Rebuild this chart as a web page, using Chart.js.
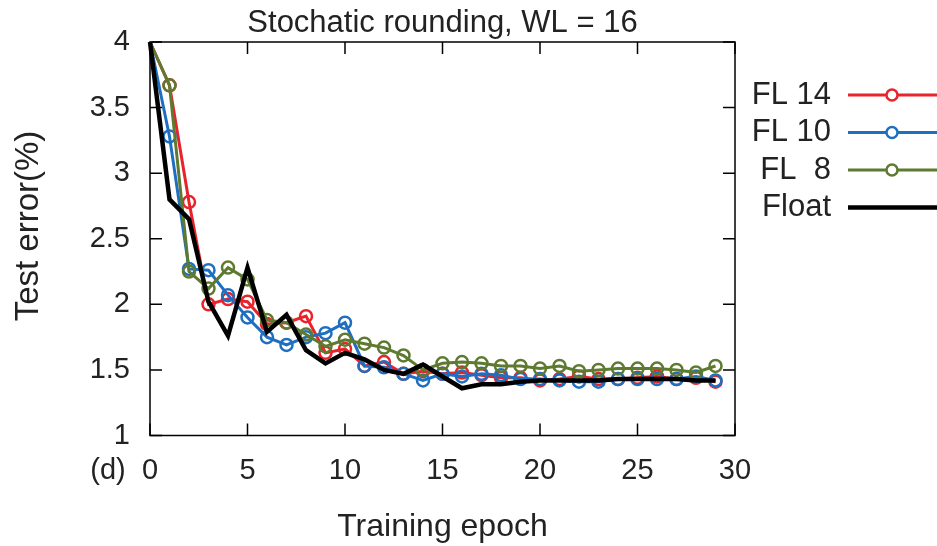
<!DOCTYPE html>
<html lang="en">
<head>
  <meta charset="UTF-8">
  <title>Stochatic rounding, WL = 16</title>
  <style>
    body { margin: 0; background: #fff; }
    #wrap { width: 937px; height: 546px; }
  </style>
</head>
<body>
  <div id="wrap">
    <canvas id="grafico" width="937" height="546"></canvas>
  </div>

  <script src="https://cdn.jsdelivr.net/npm/chart.js"></script>

  <script>
    // data
    const epochs = [0,1,2,3,4,5,6,7,8,9,10,11,12,13,14,15,16,17,18,19,20,21,22,23,24,25,26,27,28,29];
    const fl14 = [4, 3.67, 2.78, 2.0, 2.04, 2.02, 1.85, 1.86, 1.91, 1.63, 1.66, 1.53, 1.56, 1.47, 1.49, 1.47, 1.48, 1.46, 1.44, 1.44, 1.42, 1.43, 1.45, 1.43, 1.43, 1.44, 1.45, 1.43, 1.44, 1.41];
    const fl10 = [4, 3.28, 2.27, 2.26, 2.07, 1.9, 1.75, 1.69, 1.75, 1.78, 1.86, 1.53, 1.52, 1.47, 1.42, 1.47, 1.45, 1.47, 1.46, 1.43, 1.43, 1.42, 1.41, 1.41, 1.43, 1.43, 1.43, 1.43, 1.45, 1.42];
    const fl8 = [4, 3.67, 2.25, 2.12, 2.28, 2.19, 1.88, 1.86, 1.77, 1.68, 1.73, 1.7, 1.67, 1.61, 1.5, 1.55, 1.56, 1.55, 1.53, 1.53, 1.51, 1.53, 1.49, 1.5, 1.51, 1.51, 1.51, 1.5, 1.48, 1.53];
    const floatErr = [4, 2.8, 2.65, 2.02, 1.76, 2.28, 1.79, 1.92, 1.65, 1.55, 1.63, 1.58, 1.5, 1.47, 1.54, 1.45, 1.36, 1.39, 1.39, 1.41, 1.42, 1.42, 1.42, 1.42, 1.43, 1.43, 1.43, 1.43, 1.42, 1.42];

    const seriesNames = ["FL 14", "FL 10", "FL  8", "Float"];
    const seriesColors = ["#e8232b", "#1f6fc0", "#5e7a30", "#000000"];
    const xTicks = [0, 5, 10, 15, 20, 25, 30];
    const yTicks = [1, 1.5, 2, 2.5, 3, 3.5, 4];

    const FONT = "'Liberation Sans', Arial, sans-serif";

    function pts(arr) {
      return arr.map((v, i) => ({ x: epochs[i], y: v }));
    }

    // frame with inward ticks, gnuplot style
    const frame = {
      id: "frame",
      beforeDatasetsDraw(chart) {
        const { ctx, chartArea: a, scales } = chart;
        ctx.save();
        ctx.strokeStyle = "#000";
        ctx.lineWidth = 1.5;
        ctx.strokeRect(a.left, a.top, a.right - a.left, a.bottom - a.top);
        ctx.beginPath();
        xTicks.forEach(t => {
          const px = scales.x.getPixelForValue(t);
          ctx.moveTo(px, a.bottom); ctx.lineTo(px, a.bottom - 12);
          ctx.moveTo(px, a.top); ctx.lineTo(px, a.top + 12);
        });
        yTicks.forEach(t => {
          const py = scales.y.getPixelForValue(t);
          ctx.moveTo(a.left, py); ctx.lineTo(a.left + 12, py);
          ctx.moveTo(a.right, py); ctx.lineTo(a.right - 12, py);
        });
        ctx.stroke();
        ctx.restore();
      },
      afterDraw(chart) {
        const { ctx, chartArea: a } = chart;
        ctx.save();
        ctx.fillStyle = "#222";
        ctx.textBaseline = "middle";
        ctx.textAlign = "center";
        ctx.font = "31px " + FONT;
        ctx.fillText("Stochatic rounding, WL = 16", (a.left + a.right) / 2, 23);
        ctx.font = "32px " + FONT;
        ctx.fillText("Training epoch", (a.left + a.right) / 2, 527);
        ctx.font = "29px " + FONT;
        ctx.fillText("(d)", 108, 471);
        ctx.save();
        ctx.translate(29, 226);
        ctx.rotate(-Math.PI / 2);
        ctx.font = "33px " + FONT;
        ctx.fillText("Test error(%)", 0, 0);
        ctx.restore();

        // legend
        ctx.font = "31px " + FONT;
        seriesNames.forEach((name, i) => {
          const y = 95 + i * 37.5;
          ctx.textAlign = "right";
          ctx.fillStyle = "#222";
          ctx.fillText(name, 831, y);
          ctx.strokeStyle = seriesColors[i];
          ctx.lineWidth = i === 3 ? 4.5 : 3;
          ctx.beginPath();
          ctx.moveTo(848, y); ctx.lineTo(937, y);
          ctx.stroke();
          if (i < 3) {
            ctx.lineWidth = 2.5;
            ctx.fillStyle = "#fff";
            ctx.beginPath();
            ctx.arc(892, y, 5.5, 0, Math.PI * 2);
            ctx.fill();
            ctx.stroke();
          }
        });
        ctx.restore();
      }
    };

    document.addEventListener("DOMContentLoaded", () => {
      const lienzo = document.getElementById("grafico");
      const series = [fl14, fl10, fl8, floatErr];
      const orders = [3, 2, 1, 0];

      const datasets = series.map((arr, i) => ({
        label: seriesNames[i],
        data: pts(arr),
        borderColor: seriesColors[i],
        backgroundColor: "rgba(255,255,255,0)",
        borderWidth: i === 3 ? 4.5 : 3,
        pointRadius: i === 3 ? 0 : (c => c.dataIndex === 0 ? 0 : 6),
        pointBorderWidth: 2.5,
        pointBorderColor: seriesColors[i],
        pointBackgroundColor: "rgba(255,255,255,0)",
        tension: 0,
        clip: false,
        order: orders[i]
      }));

      new Chart(lienzo, {
        type: "line",
        data: { datasets },
        plugins: [frame],
        options: {
          responsive: false,
          animation: false,
          layout: { padding: { top: 42, right: 202, left: 0, bottom: 0 } },
          plugins: {
            legend: { display: false },
            tooltip: { enabled: false },
            title: { display: false }
          },
          scales: {
            x: {
              type: "linear",
              min: 0,
              max: 30,
              afterFit: s => { s.height = 110.5; },
              afterBuildTicks: s => { s.ticks = xTicks.map(v => ({ value: v })); },
              grid: { display: false, drawTicks: false },
              border: { display: false },
              ticks: { color: "#222", font: { family: FONT, size: 29 }, padding: 18, maxRotation: 0 }
            },
            y: {
              min: 1,
              max: 4,
              afterFit: s => { s.width = 150; },
              afterBuildTicks: s => { s.ticks = yTicks.map(v => ({ value: v })); },
              grid: { display: false, drawTicks: false },
              border: { display: false },
              ticks: { color: "#222", font: { family: FONT, size: 29 }, padding: 20, callback: v => String(v) }
            }
          }
        }
      });
    });
  </script>
</body>
</html>
